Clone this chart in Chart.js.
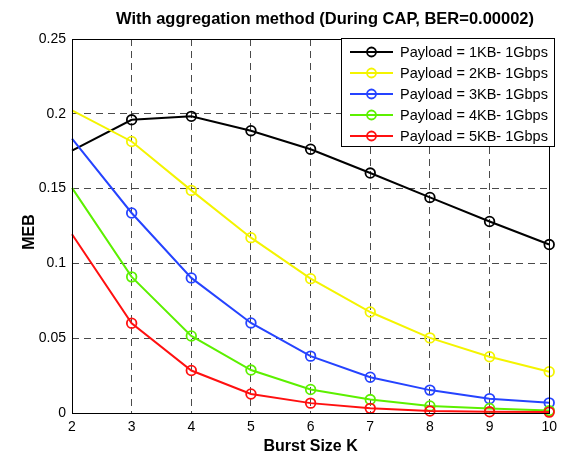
<!DOCTYPE html>
<html>
<head>
<meta charset="utf-8">
<script src="https://cdn.jsdelivr.net/npm/chart.js@4.4.1/dist/chart.umd.min.js"></script>
<style>
  html, body { margin: 0; padding: 0; background: #fff; }
  #wrap { width: 563px; height: 455px; }
</style>
</head>
<body>
<div id="wrap"><canvas id="myChart" width="563" height="455"></canvas></div>
<script>
// MEB vs burst size, aggregation during CAP at BER = 0.00002
const burstSize = [2, 3, 4, 5, 6, 7, 8, 9, 10];
const seriesNames = [
  'Payload = 1KB- 1Gbps',
  'Payload = 2KB- 1Gbps',
  'Payload = 3KB- 1Gbps',
  'Payload = 4KB- 1Gbps',
  'Payload = 5KB- 1Gbps'
];
const meb1KB = [0.1754, 0.1960, 0.1983, 0.1887, 0.1763, 0.1604, 0.1441, 0.1280, 0.1126];
const meb2KB = [0.2023, 0.1815, 0.1488, 0.1172, 0.0898, 0.0675, 0.0502, 0.0376, 0.0276];
const meb3KB = [0.1834, 0.1337, 0.0903, 0.0602, 0.0380, 0.0239, 0.0153, 0.0096, 0.0068];
const meb4KB = [0.1505, 0.0910, 0.0515, 0.0287, 0.0157, 0.0090, 0.0047, 0.0030, 0.0016];
const meb5KB = [0.1195, 0.0600, 0.0284, 0.0127, 0.0066, 0.0031, 0.0013, 0.0008, 0.0006];
const yTickLabels = ['0', '0.05', '0.1', '0.15', '0.2', '0.25'];

const allSeries = [meb1KB, meb2KB, meb3KB, meb4KB, meb5KB];
const lineColors = ['#000000', '#f4f400', '#2543ff', '#5cf000', '#ff1010'];

const FONT = "'Liberation Sans', Arial, Helvetica, sans-serif";

const datasets = allSeries.map((vals, i) => ({
  label: seriesNames[i],
  data: vals.map((v, k) => ({ x: burstSize[k], y: v })),
  borderColor: lineColors[i],
  borderWidth: 2,
  pointStyle: 'circle',
  // first point is drawn without a marker
  pointRadius: ctx => ctx.dataIndex === 0 ? 0 : 4.8,
  pointHoverRadius: 0,
  pointBorderWidth: 1.8,
  pointBorderColor: lineColors[i],
  pointBackgroundColor: 'rgba(0,0,0,0)',
  tension: 0,
  fill: false,
  clip: false,
  order: 4 - i
}));

// axes box, title, y label and boxed legend
const matlabFrame = {
  id: 'matlabFrame',
  afterDraw(chart) {
    const { ctx, chartArea: a } = chart;
    ctx.save();
    ctx.strokeStyle = '#000';
    ctx.lineWidth = 1;
    ctx.strokeRect(Math.round(a.left) + 0.5, Math.round(a.top) + 0.5,
      Math.round(a.right - a.left), Math.round(a.bottom - a.top));

    ctx.fillStyle = '#000';
    ctx.font = 'bold 16.5px ' + FONT;
    ctx.textAlign = 'center';
    ctx.textBaseline = 'middle';
    ctx.fillText('With aggregation method (During CAP, BER=0.00002)', 325, 19);

    ctx.save();
    ctx.translate(30, 232);
    ctx.rotate(-Math.PI / 2);
    ctx.font = 'bold 16px ' + FONT;
    ctx.fillText('MEB', 0, 0);
    ctx.restore();

    // legend
    const lx = 341, ly = 38, lw = 213, lh = 108;
    ctx.fillStyle = '#fff';
    ctx.fillRect(lx, ly, lw, lh);
    ctx.strokeStyle = '#000';
    ctx.lineWidth = 1;
    ctx.strokeRect(lx + 0.5, ly + 0.5, lw, lh);
    ctx.font = '14.5px ' + FONT;
    ctx.textAlign = 'left';
    chart.data.datasets.forEach((ds, i) => {
      const y = ly + 14 + i * 21;
      ctx.strokeStyle = ds.borderColor;
      ctx.lineWidth = 2;
      ctx.beginPath();
      ctx.moveTo(lx + 9, y);
      ctx.lineTo(lx + 52, y);
      ctx.stroke();
      ctx.lineWidth = 1.8;
      ctx.beginPath();
      ctx.arc(lx + 30.5, y, 4.5, 0, Math.PI * 2);
      ctx.stroke();
      ctx.fillStyle = '#000';
      ctx.fillText(ds.label, lx + 59, y + 0.5);
    });
    ctx.restore();
  }
};

new Chart(document.getElementById('myChart'), {
  type: 'line',
  data: { datasets },
  options: {
    responsive: false,
    animation: false,
    layout: { padding: { top: 39, right: 12, left: 0, bottom: 0 } },
    plugins: {
      legend: { display: false },
      title: { display: false },
      tooltip: { enabled: false }
    },
    scales: {
      x: {
        type: 'linear',
        min: 2,
        max: 10,
        afterFit: s => { s.height = 42; },
        ticks: {
          stepSize: 1,
          color: '#000',
          padding: 6,
          font: { family: FONT, size: 14 }
        },
        grid: { color: '#4a4a4a', lineWidth: 1, drawTicks: false },
        border: { display: false, dash: [7, 5] },
        title: {
          display: true,
          text: 'Burst Size K',
          color: '#000',
          font: { family: FONT, size: 16, weight: 'bold' },
          padding: { top: 0, bottom: -1 }
        }
      },
      y: {
        min: 0,
        max: 0.25,
        afterFit: s => { s.width = 72; },
        ticks: {
          stepSize: 0.05,
          color: '#000',
          padding: 6,
          font: { family: FONT, size: 14 },
          callback: (v, i) => yTickLabels[i]
        },
        grid: { color: '#4a4a4a', lineWidth: 1, drawTicks: false },
        border: { display: false, dash: [7, 5] }
      }
    }
  },
  plugins: [matlabFrame]
});
</script>
</body>
</html>
